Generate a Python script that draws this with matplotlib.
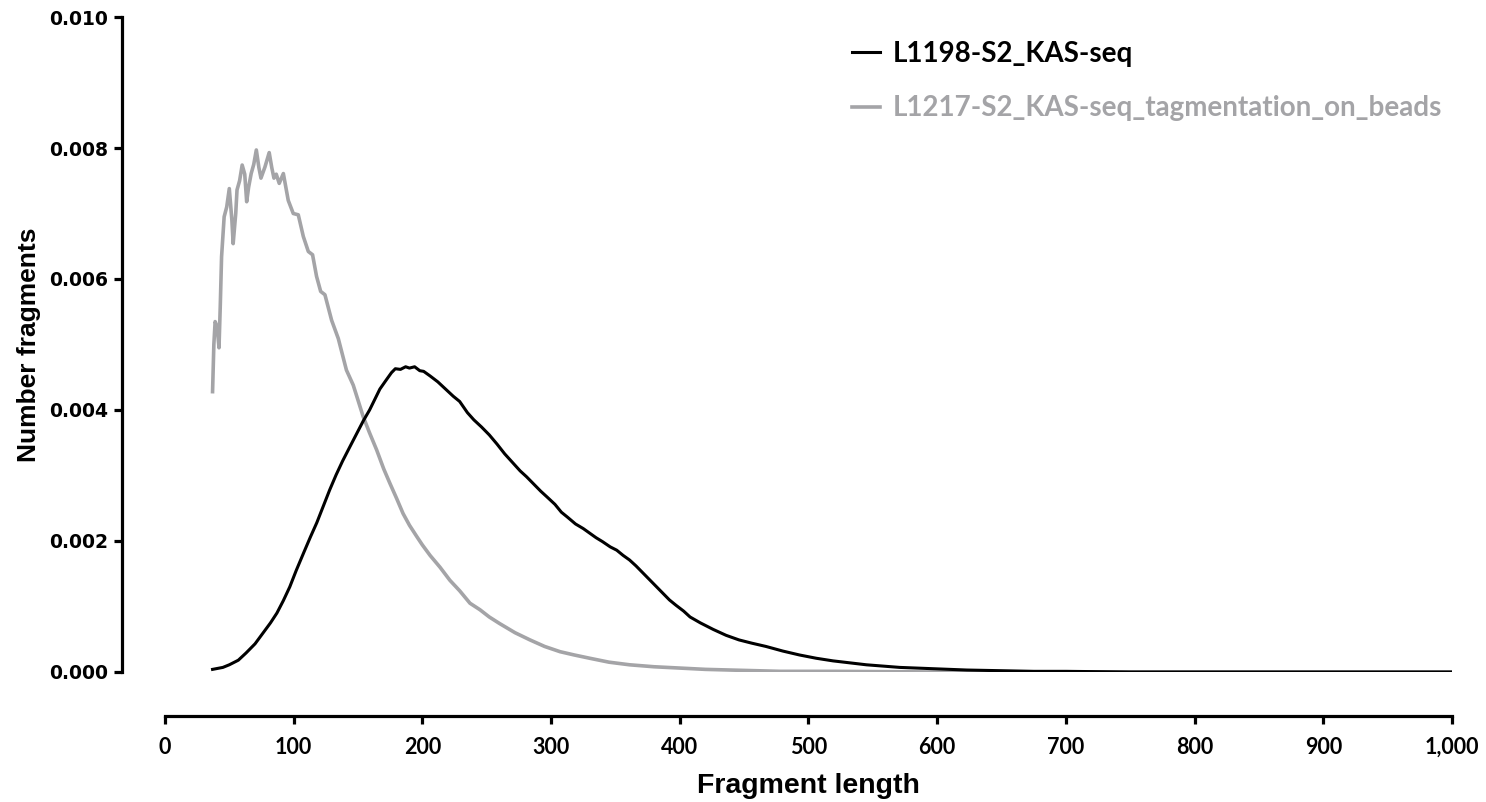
#!/usr/bin/env python3
"""Fragment length distribution of two KAS-seq libraries (Prism-style line plot)."""

import matplotlib

matplotlib.use("Agg")
import matplotlib.pyplot as plt
from matplotlib.ticker import FuncFormatter

# values
kas_x = [37, 45, 50, 57, 63, 70, 76, 82, 87, 92, 97, 102, 108, 113, 118, 123,
         128, 133, 138, 144, 149, 154, 159, 163, 167, 172, 176, 179, 183, 187,
         190, 194, 198, 201, 206, 212, 218, 224, 229, 235, 240, 246, 252, 258,
         264, 270, 276, 281, 287, 292, 297, 303, 308, 313, 319, 325, 330, 335,
         340, 346, 351, 356, 361, 366, 371, 377, 382, 387, 392, 397, 403, 408,
         416, 426, 436, 446, 456, 467, 480, 493, 506, 519, 532, 545, 558, 571,
         584, 597, 610, 623, 649, 675, 700, 750, 800, 850, 900, 950, 1000]
kas_y = [0.00004, 0.00007, 0.00011, 0.00018, 0.00029, 0.00043, 0.00059,
         0.00075, 0.00090, 0.00109, 0.00130, 0.00155, 0.00183, 0.00206,
         0.00228, 0.00253, 0.00278, 0.00301, 0.00322, 0.00345, 0.00364,
         0.00383, 0.00400, 0.00416, 0.00432, 0.00446, 0.00457, 0.00463,
         0.00462, 0.00466, 0.00464, 0.00466, 0.00460, 0.00459, 0.00452,
         0.00443, 0.00432, 0.00421, 0.00413, 0.00396, 0.00385, 0.00374,
         0.00362, 0.00348, 0.00333, 0.00320, 0.00307, 0.00298, 0.00286,
         0.00276, 0.00267, 0.00256, 0.00244, 0.00236, 0.00226, 0.00219,
         0.00212, 0.00205, 0.00199, 0.00191, 0.00186, 0.00178, 0.00171,
         0.00162, 0.00152, 0.00140, 0.00130, 0.00120, 0.00110, 0.00102,
         0.00093, 0.00084, 0.00075, 0.00065, 0.00056, 0.00049, 0.00044,
         0.00039, 0.00032, 0.00026, 0.00021, 0.00017, 0.00014, 0.00011,
         0.00009, 0.00007, 0.00006, 0.00005, 0.00004, 0.00003, 0.00002,
         0.00001, 0.00001, 0.0, 0.0, 0.0, 0.0, 0.0, 0.0]

beads_x = [37, 38, 39, 40, 41, 42, 43, 44, 46, 48, 50, 52, 53, 55, 56, 58, 60,
           62, 63.5, 65, 67, 69, 71, 73, 74.6, 77.7, 81, 83, 84.7, 86.5, 88.8,
           92, 95.8, 99.7, 103.6, 107.5, 111.4, 114.7, 117.8, 121, 124.3,
           129.5, 134.7, 141, 146.3, 150, 154, 159, 164.5, 170, 174.8, 180,
           185, 190, 195.6, 200, 206, 213.7, 221.4, 229, 237, 244.8, 252, 260,
           272, 283.6, 295, 307, 318, 330, 345, 361, 380, 400, 420, 439, 478,
           520, 600, 700, 800, 900, 1000]
beads_y = [0.00428, 0.00500, 0.00535, 0.00530, 0.00517, 0.00495, 0.00560,
           0.00634, 0.00695, 0.00710, 0.00738, 0.00690, 0.00654, 0.00700,
           0.00736, 0.00750, 0.00774, 0.00760, 0.00718, 0.00740, 0.00761,
           0.00775, 0.00797, 0.00770, 0.00754, 0.00771, 0.00793, 0.00770,
           0.00754, 0.00760, 0.00746, 0.00761, 0.00720, 0.00700, 0.00698,
           0.00665, 0.00642, 0.00637, 0.00604, 0.00581, 0.00576, 0.00537,
           0.00509, 0.00461, 0.00438, 0.00415, 0.00390, 0.00365, 0.00339,
           0.00310, 0.00288, 0.00265, 0.00242, 0.00224, 0.00207, 0.00194,
           0.00178, 0.00160, 0.00140, 0.00124, 0.00105, 0.00095, 0.00084,
           0.00074, 0.00060, 0.00049, 0.00039, 0.00031, 0.00026, 0.00021,
           0.00015, 0.00011, 0.00008, 0.00006, 0.00004, 0.00003, 0.00001,
           0.00001, 0.0, 0.0, 0.0, 0.0, 0.0]

series_labels = ["L1198-S2_KAS-seq", "L1217-S2_KAS-seq_tagmentation_on_beads"]
x_ticks = [0, 100, 200, 300, 400, 500, 600, 700, 800, 900, 1000]
y_ticks = [0.0, 0.002, 0.004, 0.006, 0.008, 0.010]

BLACK = "#000000"
GREY = "#a4a4a7"


def plot(output_path):
    fig = plt.figure(figsize=(14.86, 8.02), dpi=100)
    ax = fig.add_axes([0.1110, 0.1621, 0.8661, 0.8167])

    ax.plot(beads_x, beads_y, color=GREY, lw=2.6, label=series_labels[1],
            solid_joinstyle="round")
    ax.plot(kas_x, kas_y, color=BLACK, lw=2.2, label=series_labels[0],
            solid_joinstyle="round")

    ax.set_xlim(0, 1000)
    ax.set_ylim(0, 0.010)
    ax.set_xticks(x_ticks)
    ax.set_yticks(y_ticks)
    ax.xaxis.set_major_formatter(FuncFormatter(lambda v, _: f"{int(v):,}"))
    ax.yaxis.set_major_formatter(FuncFormatter(lambda v, _: f"{v:.3f}"))

    # Prism look: only left and bottom spines, bottom one pushed down
    ax.spines[["top", "right"]].set_visible(False)
    ax.spines["left"].set_position(("outward", 31))
    ax.spines["bottom"].set_position(("outward", 31.5))
    for side in ("left", "bottom"):
        ax.spines[side].set_linewidth(2.3)
        ax.spines[side].set_capstyle("projecting")
    ax.tick_params(axis="both", direction="out", length=6, width=2.3)
    ax.tick_params(axis="x", pad=9)
    ax.tick_params(axis="y", pad=4)

    for t in ax.get_yticklabels():
        t.set_fontfamily("DejaVu Sans")
        t.set_fontweight("bold")
        t.set_fontsize(13.5)
    for t in ax.get_xticklabels():
        t.set_fontfamily("Lato")
        t.set_fontweight("bold")
        t.set_fontsize(15.5)

    ax.set_xlabel("Fragment length", fontfamily="Liberation Sans",
                  fontweight="bold", fontsize=20.5, labelpad=11)
    ax.set_ylabel("Number fragments", fontfamily="Liberation Sans",
                  fontweight="bold", fontsize=19, labelpad=6)

    handles, labels = ax.get_legend_handles_labels()
    ax.legend(handles[::-1], labels[::-1], loc="upper left",
              bbox_to_anchor=(852 / 1486, 1 - 41 / 802),
              bbox_transform=fig.transFigure, frameon=False,
              borderpad=0, borderaxespad=0, handlelength=1.0,
              handletextpad=0.45, labelspacing=1.02,
              prop={"family": "Lato", "weight": "bold", "size": 20},
              labelcolor="linecolor")

    fig.savefig(output_path, dpi=100)
    plt.close(fig)


if __name__ == "__main__":
    plot("out.png")
